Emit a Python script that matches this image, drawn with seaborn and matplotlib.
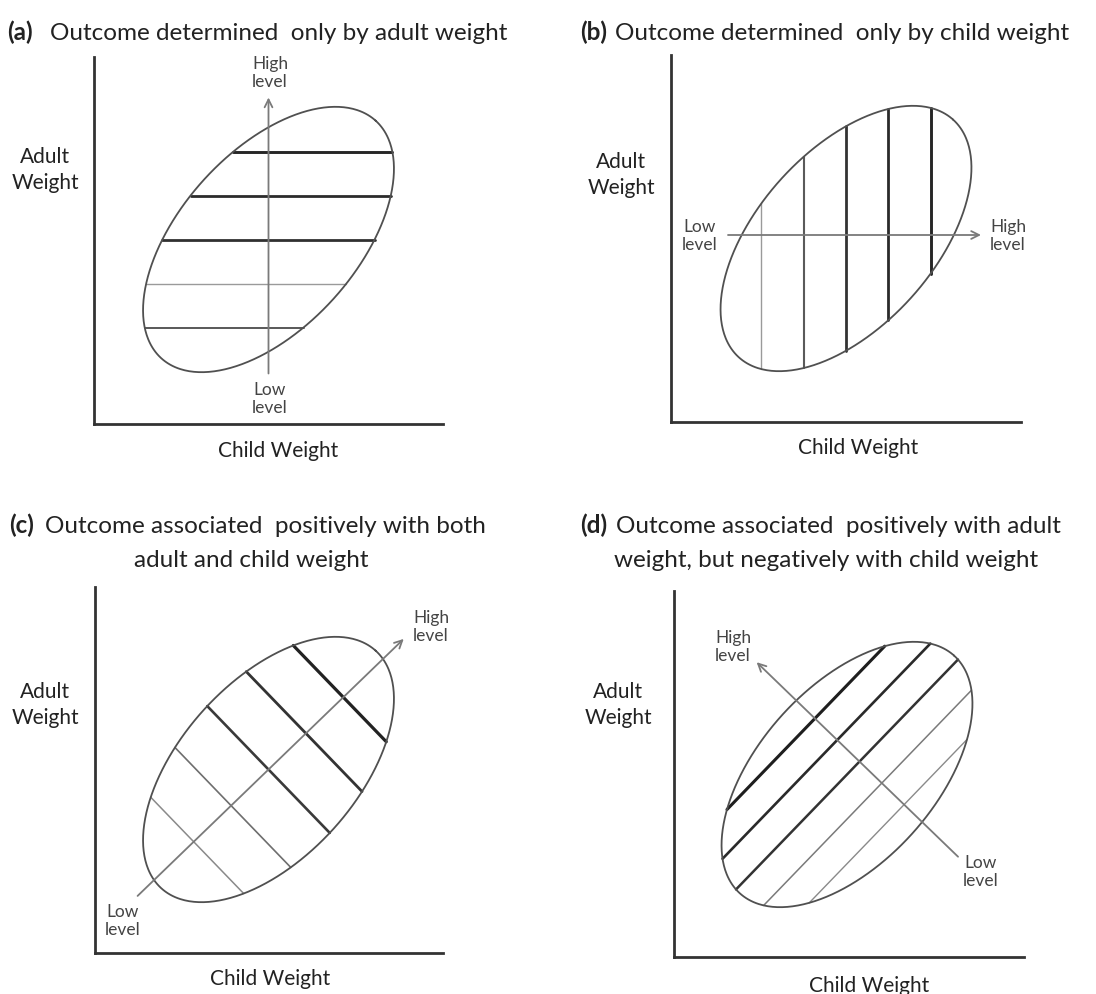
import numpy as np
import pandas as pd
import matplotlib
matplotlib.use("Agg")
import matplotlib.pyplot as plt
import seaborn as sns

sns.set_theme(style="white")
plt.rcParams["font.family"] = ["Lato", "DejaVu Sans"]

W, H = 1096, 994

# ---------------- content ----------------
panel_ids = ["a", "b", "c", "d"]
panel_tags = ["(a)", "(b)", "(c)", "(d)"]
title_line1 = [
    "Outcome determined  only by adult weight",
    "Outcome determined  only by child weight",
    "Outcome associated  positively with both",
    "Outcome associated  positively with adult",
]
title_line2 = ["", "", "adult and child weight", "weight, but negatively with child weight"]
x_label = "Child Weight"
y_label = "Adult\nWeight"
high_label = "High\nlevel"
low_label = "Low\nlevel"

# outcome levels drawn as iso-lines (low -> high)
levels = [-2, -1, 0, 1, 2]
# direction of increasing outcome (degrees, counter-clockwise from child-weight axis)
gradient_dir = [90, 0, 44, 136]
# grey shade of each iso-line, low -> high
shades = [
    ["#585858", "#9a9a9a", "#303030", "#2b2b2b", "#262626"],
    ["#9a9a9a", "#5a5a5a", "#333333", "#2a2a2a", "#262626"],
    ["#8a8a8a", "#6e6e6e", "#3a3a3a", "#333333", "#222222"],
    ["#8a8a8a", "#7a7a7a", "#333333", "#2a2a2a", "#1e1e1e"],
]
widths = [
    [1.4, 1.0, 2.0, 2.0, 2.1],
    [1.0, 1.5, 2.0, 2.0, 2.1],
    [1.1, 1.2, 1.9, 2.0, 2.3],
    [1.0, 1.1, 1.8, 1.9, 2.2],
]

# ---------------- layout (pixels) ----------------
frames = [(94, 443, 57, 424), (671, 1021, 55, 422), (95, 443, 587, 953), (674, 1024, 591, 957)]
centers = [(268.5, 239.5), (846, 238.5), (268.5, 769.5), (847, 774.5)]
spacing = [44, 42.3, 52, 31]
arrow_span = [(-134, 142, 0), (-118, 135, -3.5), (-182, 188, 0), (-137, 143, 18)]
ELL_A, ELL_B, ELL_TILT = 160, 88, 48

tag_pos = [(7, 40), (580, 40), (9, 533), (580, 533)]
line1_pos = [(50, 40), (615, 40), (45, 533), (616, 533)]
line2_pos = [None, None, (251, 567), (826, 567)]
ylab_pos = [(45, 170), (621, 175), (45, 705), (618, 705)]
xlab_pos = [(278, 457), (858, 454), (270, 985), (869, 992)]
high_pos = [(270, 73), (1008, 236), (431, 627), (733, 647)]
low_pos = [(270, 399), (700, 236), (123, 921), (981, 872)]

TITLE_FS = 17.5
LABEL_FS = 15
SMALL_FS = 12.5


def fig_xy(px, py):
    return px / W, 1 - py / H


def screen_dir(deg):
    t = np.deg2rad(deg)
    return np.array([np.cos(t), -np.sin(t)])


ELL_U = screen_dir(ELL_TILT)
ELL_V = np.array([np.sin(np.deg2rad(ELL_TILT)), np.cos(np.deg2rad(ELL_TILT))])


def chord(center, g, s):
    d = np.array([-g[1], g[0]])
    p0 = center + s * g
    q0, r0 = (p0 - center) @ ELL_U, (p0 - center) @ ELL_V
    qd, rd = d @ ELL_U, d @ ELL_V
    aa = qd ** 2 / ELL_A ** 2 + rd ** 2 / ELL_B ** 2
    bb = 2 * (q0 * qd / ELL_A ** 2 + r0 * rd / ELL_B ** 2)
    cc = q0 ** 2 / ELL_A ** 2 + r0 ** 2 / ELL_B ** 2 - 1
    disc = np.sqrt(max(bb ** 2 - 4 * aa * cc, 0))
    t1 = (-bb - disc) / (2 * aa)
    t2 = (-bb + disc) / (2 * aa)
    return p0 + t1 * d, p0 + t2 * d


fig = plt.figure(figsize=(W / 100, H / 100), dpi=100)

for i in range(4):
    x0, x1, y0, y1 = frames[i]
    ax = fig.add_axes([x0 / W, 1 - y1 / H, (x1 - x0) / W, (y1 - y0) / H])
    ax.set_xlim(x0, x1)
    ax.set_ylim(y1, y0)
    c = np.array(centers[i])
    g = screen_dir(gradient_dir[i])

    # iso-lines
    rows = []
    for k, lv in enumerate(levels):
        p, q = chord(c, g, lv * spacing[i])
        rows.append({"x": p[0], "y": p[1], "line": k, "level": lv})
        rows.append({"x": q[0], "y": q[1], "line": k, "level": lv})
    df = pd.DataFrame(rows)
    sns.lineplot(data=df, x="x", y="y", units="line", estimator=None, sort=False,
                 hue="level", palette=dict(zip(levels, shades[i])),
                 size="level", sizes=dict(zip(levels, widths[i])),
                 legend=False, ax=ax)

    # ellipse outline
    t = np.linspace(0, 2 * np.pi, 400)
    pts = c[None, :] + np.outer(ELL_A * np.cos(t), ELL_U) + np.outer(ELL_B * np.sin(t), ELL_V)
    ell = pd.DataFrame({"x": pts[:, 0], "y": pts[:, 1]})
    sns.lineplot(data=ell, x="x", y="y", sort=False, estimator=None,
                 color="#505050", lw=1.3, ax=ax)

    # gradient arrow
    s0, s1, off = arrow_span[i]
    nrm = np.array([-g[1], g[0]])
    tail = c + s0 * g + off * nrm
    head = c + s1 * g + off * nrm
    ax.annotate("", xy=head, xytext=tail,
                arrowprops=dict(arrowstyle="->", color="#7a7a7a", lw=1.3,
                                shrinkA=0, shrinkB=0, mutation_scale=14))

    ax.set_xlabel("")
    ax.set_ylabel("")
    ax.set_xticks([])
    ax.set_yticks([])
    for side in ["top", "right"]:
        ax.spines[side].set_visible(False)
    for side in ["left", "bottom"]:
        ax.spines[side].set_color("#333333")
        ax.spines[side].set_linewidth(2)

    # texts
    fig.text(*fig_xy(*tag_pos[i]), panel_tags[i], fontsize=TITLE_FS, fontweight="bold",
             ha="left", va="baseline", color="#222222")
    fig.text(*fig_xy(*line1_pos[i]), title_line1[i], fontsize=TITLE_FS,
             ha="left", va="baseline", color="#222222")
    if line2_pos[i] is not None:
        fig.text(*fig_xy(*line2_pos[i]), title_line2[i], fontsize=TITLE_FS,
                 ha="center", va="baseline", color="#222222")
    fig.text(*fig_xy(*ylab_pos[i]), y_label, fontsize=LABEL_FS, ha="center", va="center",
             linespacing=1.4, color="#222222")
    fig.text(*fig_xy(*xlab_pos[i]), x_label, fontsize=LABEL_FS, ha="center", va="baseline",
             color="#222222")
    fig.text(*fig_xy(*high_pos[i]), high_label, fontsize=SMALL_FS, ha="center", va="center",
             linespacing=1.2, color="#444444")
    fig.text(*fig_xy(*low_pos[i]), low_label, fontsize=SMALL_FS, ha="center", va="center",
             linespacing=1.2, color="#444444")

fig.savefig("out.png", dpi=100, facecolor="white")
